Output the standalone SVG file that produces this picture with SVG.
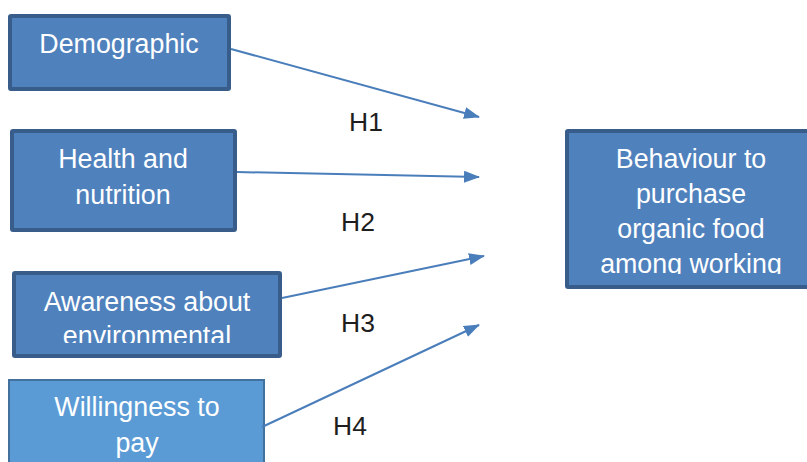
<svg xmlns="http://www.w3.org/2000/svg" width="807" height="462" viewBox="0 0 807 462">
<style>
.box{fill:#4F81BD;stroke:#385D8A;stroke-width:4}
.box2{fill:#5B9BD5;stroke:#41719C;stroke-width:2}
.t{font-family:"Liberation Sans",Arial,sans-serif;font-size:26.8px;fill:#FFFFFF;text-anchor:middle}
.h{font-family:"Liberation Sans",Arial,sans-serif;font-size:26.5px;fill:#1E1E1E;text-anchor:middle}
.c{stroke:#4A7EBB;stroke-width:2;fill:none;marker-end:url(#ah)}
</style>
<defs>
<marker id="ah" markerWidth="8" markerHeight="6" refX="7.5" refY="3" orient="auto" markerUnits="strokeWidth">
<path d="M0,0 L8,3 L0,6 Z" fill="#4A7EBB"/>
</marker>
<clipPath id="c3"><rect x="0" y="0" width="807" height="343"/></clipPath>
<clipPath id="c5"><rect x="0" y="0" width="807" height="274"/></clipPath>
</defs>
<g id="n1">
<rect class="box" x="10" y="16" width="219" height="73" rx="1"/>
<text class="t" x="119" y="53">Demographic</text>
</g>
<g id="n2">
<rect class="box" x="12" y="131" width="223" height="99" rx="1"/>
<text class="t" x="123" y="168">Health and</text>
<text class="t" x="123" y="204">nutrition</text>
</g>
<g id="n3">
<rect class="box" x="14" y="273" width="266" height="83" rx="1"/>
<g clip-path="url(#c3)">
<text class="t" x="147" y="311">Awareness about</text>
<text class="t" x="147" y="345">environmental</text>
</g>
</g>
<g id="n4">
<rect class="box2" x="9" y="380" width="255" height="90"/>
<text class="t" x="137" y="416">Willingness to</text>
<text class="t" x="137" y="452">pay</text>
</g>
<g id="n5">
<rect class="box" x="567" y="131" width="250" height="156" rx="1"/>
<g clip-path="url(#c5)">
<text class="t" x="691" y="168">Behaviour to</text>
<text class="t" x="691" y="203">purchase</text>
<text class="t" x="691" y="238">organic food</text>
<text class="t" x="691" y="273">among working</text>
</g>
</g>
<g id="connectors">
<line class="c" x1="231" y1="49" x2="479" y2="117"/>
<line class="c" x1="237" y1="172" x2="479" y2="177"/>
<line class="c" x1="282" y1="298" x2="484" y2="256"/>
<line class="c" x1="262" y1="427" x2="479" y2="325"/>
</g>
<g id="labels">
<text class="h" x="366" y="131">H1</text>
<text class="h" x="358" y="231">H2</text>
<text class="h" x="358" y="332">H3</text>
<text class="h" x="350" y="435">H4</text>
</g>
</svg>
